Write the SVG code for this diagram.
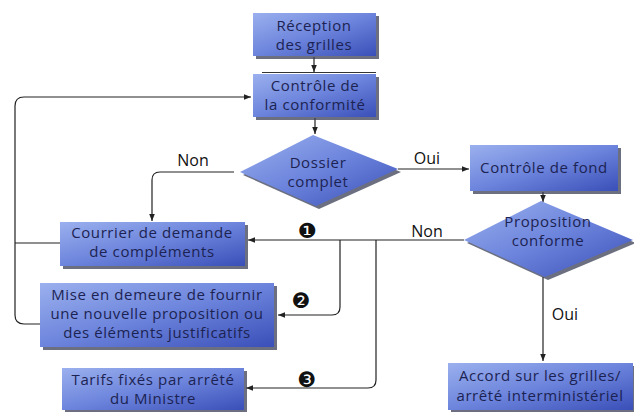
<svg xmlns="http://www.w3.org/2000/svg" width="634" height="412" viewBox="0 0 634 412">
<defs>
<linearGradient id="g" x1="0" y1="0" x2="1" y2="1">
<stop offset="0" stop-color="#9bb0ee"/>
<stop offset="0.5" stop-color="#6c84dc"/>
<stop offset="1" stop-color="#3a4fb8"/>
</linearGradient>
<marker id="a" viewBox="0 0 10 10" refX="10" refY="5" markerWidth="7" markerHeight="7" orient="auto-start-reverse" markerUnits="userSpaceOnUse">
<path d="M0,1 L10,5 L0,9 z" fill="#222"/>
</marker>
<style>
.box{fill:url(#g);}
.sh{fill:#3a3f55;opacity:0.75;}
.t{font-family:"Open Sans","Noto Sans",sans-serif;font-size:15px;letter-spacing:0.6px;fill:#1c2352;text-anchor:middle;}
.l{font-family:"Open Sans","Noto Sans",sans-serif;font-size:16px;fill:#111;text-anchor:middle;}
.n{font-family:"DejaVu Sans",sans-serif;font-size:21px;fill:#111;text-anchor:middle;}
.c{fill:none;stroke:#222;stroke-width:1.2;}
</style>
</defs>
<rect width="634" height="412" fill="#fff"/>
<g id="connectors">
<path class="c" d="M314,57 V72" marker-end="url(#a)"/>
<path class="c" d="M315,118 V134" marker-end="url(#a)"/>
<path class="c" d="M234,172 H160 Q152,172 152,180 V221" marker-end="url(#a)"/>
<path class="c" d="M398,169 H469" marker-end="url(#a)"/>
<path class="c" d="M60,243 H15"/>
<path class="c" d="M40,324 H24 Q15,324 15,315 V106 Q15,97 24,97 H251" marker-end="url(#a)"/>
<path class="c" d="M543,192 V202" marker-end="url(#a)"/>
<path class="c" d="M464,240 H248" marker-end="url(#a)"/>
<path class="c" d="M340,240 V307 Q340,315 332,315 H278" marker-end="url(#a)"/>
<path class="c" d="M376,240 V380 Q376,388 368,388 H246" marker-end="url(#a)"/>
<path class="c" d="M543,277 V361" marker-end="url(#a)"/>
<text class="l" x="193" y="166">Non</text>
<text class="l" x="427" y="164">Oui</text>
<text class="l" x="427" y="237">Non</text>
<text class="l" x="565" y="320">Oui</text>
<text class="n" x="307" y="238">❶</text>
<text class="n" x="301" y="308">❷</text>
<text class="n" x="307" y="387">❸</text>
</g>
<g id="reception">
<rect class="sh" x="256" y="16" width="123" height="43"/>
<rect class="box" x="253" y="13" width="123" height="43"/>
<text class="t" x="314" y="31">Réception</text>
<text class="t" x="314" y="50">des grilles</text>
</g>
<g id="conformite">
<line x1="262" y1="72.5" x2="376" y2="72.5" stroke="#333" stroke-width="1"/>
<rect class="sh" x="256" y="77" width="123" height="43"/>
<rect class="box" x="253" y="74" width="123" height="43"/>
<text class="t" x="315" y="91">Contrôle de</text>
<text class="t" x="315" y="110">la conformité</text>
</g>
<g id="dossier">
<polygon class="sh" points="316,138 401,172 319,209 243,175"/>
<polygon class="box" points="313,135 398,169 316,206 240,172"/>
<text class="t" x="318" y="168">Dossier</text>
<text class="t" x="318" y="187">complet</text>
</g>
<g id="fond">
<rect class="sh" x="473" y="148" width="148" height="46"/>
<rect class="box" x="470" y="145" width="148" height="46"/>
<text class="t" x="544" y="173">Contrôle de fond</text>
</g>
<g id="proposition">
<polygon class="sh" points="544,204 636,243 548,280 467,243"/>
<polygon class="box" points="541,201 633,240 545,277 464,240"/>
<text class="t" x="548" y="227">Proposition</text>
<text class="t" x="548" y="246">conforme</text>
</g>
<g id="courrier">
<rect class="sh" x="63" y="225" width="185" height="44"/>
<rect class="box" x="60" y="222" width="185" height="44"/>
<text class="t" x="152" y="238">Courrier de demande</text>
<text class="t" x="152" y="257">de compléments</text>
</g>
<g id="miseendemeure">
<rect class="sh" x="43" y="286" width="234" height="64"/>
<rect class="box" x="40" y="283" width="234" height="64"/>
<text class="t" x="157" y="300">Mise en demeure de fournir</text>
<text class="t" x="157" y="319">une nouvelle proposition ou</text>
<text class="t" x="157" y="338">des éléments justificatifs</text>
</g>
<g id="tarifs">
<rect class="sh" x="65" y="371" width="182" height="42"/>
<rect class="box" x="62" y="368" width="182" height="42"/>
<text class="t" x="153" y="385">Tarifs fixés par arrêté</text>
<text class="t" x="153" y="404">du Ministre</text>
</g>
<g id="accord">
<rect class="sh" x="451" y="366" width="185" height="46"/>
<rect class="box" x="448" y="363" width="185" height="47"/>
<text class="t" x="540" y="381">Accord sur les grilles/</text>
<text class="t" x="540" y="401">arrêté interministériel</text>
</g>
</svg>
